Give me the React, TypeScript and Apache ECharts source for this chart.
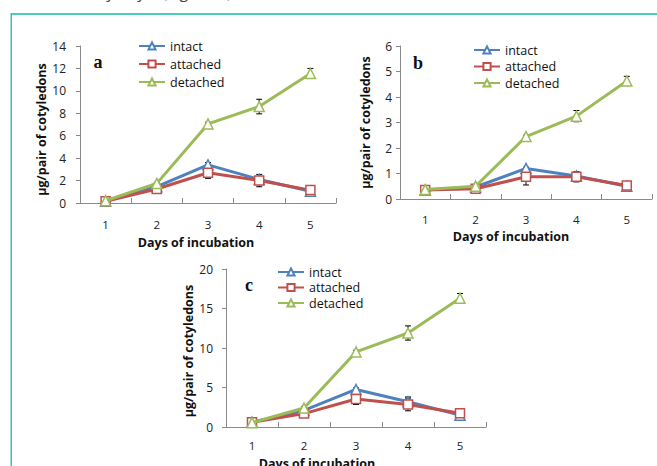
import React, { useEffect, useRef } from "react";
import * as echarts from "echarts";

const days = ["1", "2", "3", "4", "5"];
const seriesNames = ["intact", "attached", "detached"];
const xTitle = "Days of incubation";
const yTitle = "\u03bcg/pair of cotyledons";

const intactA = [0.15, 1.45, 3.4, 2.1, 1.05];
const attachedA = [0.15, 1.25, 2.7, 2.0, 1.15];
const detachedA = [0.2, 1.75, 7.05, 8.6, 11.55];
const errIntactA = [0.05, 0.1, 0.2, 0.15, 0.1];
const errAttachedA = [0.05, 0.1, 0.5, 0.55, 0.15];
const errDetachedA = [0.05, 0.1, 0.15, 0.65, 0.45];

const intactB = [0.35, 0.47, 1.2, 0.9, 0.5];
const attachedB = [0.35, 0.4, 0.87, 0.87, 0.53];
const detachedB = [0.37, 0.5, 2.45, 3.25, 4.63];
const errIntactB = [0.03, 0.03, 0.05, 0.05, 0.05];
const errAttachedB = [0.03, 0.03, 0.32, 0.2, 0.08];
const errDetachedB = [0.03, 0.03, 0.05, 0.22, 0.18];

const intactC = [0.6, 2.1, 4.75, 3.2, 1.5];
const attachedC = [0.6, 1.7, 3.55, 2.85, 1.75];
const detachedC = [0.55, 2.4, 9.5, 11.9, 16.3];
const errIntactC = [0.1, 0.1, 0.2, 0.6, 0.2];
const errAttachedC = [0.1, 0.15, 0.7, 0.8, 0.2];
const errDetachedC = [0.1, 0.15, 0.2, 0.9, 0.6];

const yMaxes = [14, 6, 20];
const yIntervals = [2, 1, 5];
const panelLetters = ["a", "b", "c"];

const COLORS = ["#4F81BD", "#C0504D", "#9BBB59"];
const SYMBOLS = ["triangle", "rect", "triangle"];
const FONT = "Open Sans";

export default function App() {
  const ref = useRef<HTMLDivElement>(null);
  useEffect(() => {
    if (!ref.current) return;
    const chart = echarts.init(ref.current, null, { renderer: "svg" });

    const panels = [
      { vals: [intactA, attachedA, detachedA], errs: [errIntactA, errAttachedA, errDetachedA] },
      { vals: [intactB, attachedB, detachedB], errs: [errIntactB, errAttachedB, errDetachedB] },
      { vals: [intactC, attachedC, detachedC], errs: [errIntactC, errAttachedC, errDetachedC] },
    ];

    const grids = [
      { left: 80, top: 46, width: 256, height: 157 },
      { left: 400, top: 46, width: 252, height: 153 },
      { left: 226, top: 269, width: 260, height: 158 },
    ];
    const xLabelMargin = [16, 15, 13];
    const xTitlePos = [
      [196, 242],
      [511, 236],
      [317, 463],
    ];
    const yLabelMargin = [14, 8, 13];
    const yNameGap = [31, 28, 31];
    const yNameShift = [5, 0, 3];
    const legendPos = [
      { left: 138, top: 39, itemGap: 4 },
      { left: 473, top: 43, itemGap: 2.5 },
      { left: 277, top: 265, itemGap: 1.5 },
    ];
    const letterPos = [
      [98, 62],
      [418, 63],
      [249, 285],
    ];

    const axisColor = "#8a8a8a";

    const xAxis = grids.map((_, i) => ({
      type: "category",
      gridIndex: i,
      data: days,
      boundaryGap: true,
      axisLine: { lineStyle: { color: axisColor, width: 1 } },
      axisTick: { show: true, inside: true, length: 5, lineStyle: { color: axisColor } },
      axisLabel: {
        color: "#222",
        fontFamily: FONT,
        fontSize: 11.5,
        lineHeight: 11,
        margin: xLabelMargin[i],
      },
      splitLine: { show: false },
    }));

    const yAxis = grids.map((_, i) => ({
      type: "value",
      gridIndex: i,
      min: 0,
      max: yMaxes[i],
      interval: yIntervals[i],
      axisLine: { show: true, lineStyle: { color: axisColor, width: 1 } },
      axisTick: { show: true, inside: false, length: 4, lineStyle: { color: axisColor } },
      axisLabel: { color: "#222", fontFamily: FONT, fontSize: 12, margin: yLabelMargin[i] },
      splitLine: { show: false },
      name: yTitle,
      nameLocation: "middle",
      nameRotate: 90,
      nameGap: yNameGap[i],
      nameTextStyle: {
        color: "#111",
        fontFamily: FONT,
        fontWeight: "bold",
        fontSize: 12.5,
        padding: [0, yNameShift[i] * 2, 0, 0],
      },
    }));

    const series: any[] = [];
    panels.forEach((p, pi) => {
      p.vals.forEach((vals, si) => {
        series.push({
          type: "custom",
          xAxisIndex: pi,
          yAxisIndex: pi,
          z: 1,
          data: vals.map((v, k) => [k, v, p.errs[si][k]]),
          renderItem: (params: any, api: any) => {
            const x = api.value(0);
            const v = api.value(1);
            const e = api.value(2);
            const top = api.coord([x, v + e]);
            const bot = api.coord([x, v - e]);
            const cx = top[0];
            const hw = 3;
            const st = { stroke: "#000", lineWidth: 1 };
            return {
              type: "group",
              children: [
                { type: "line", shape: { x1: cx, y1: top[1], x2: cx, y2: bot[1] }, style: st },
                { type: "line", shape: { x1: cx - hw, y1: top[1], x2: cx + hw, y2: top[1] }, style: st },
                { type: "line", shape: { x1: cx - hw, y1: bot[1], x2: cx + hw, y2: bot[1] }, style: st },
              ],
            };
          },
        });
      });
      p.vals.forEach((vals, si) => {
        series.push({
          type: "line",
          name: seriesNames[si],
          xAxisIndex: pi,
          yAxisIndex: pi,
          data: vals,
          color: COLORS[si],
          symbol: SYMBOLS[si],
          symbolSize: si === 1 ? 9 : 10,
          showAllSymbol: true,
          lineStyle: { color: COLORS[si], width: 3 },
          itemStyle: { color: "#ffffff", borderColor: COLORS[si], borderWidth: 1.5 },
          z: 2 + si,
        });
      });
    });

    const legend = legendPos.map((lp) => ({
      orient: "vertical",
      left: lp.left,
      top: lp.top,
      padding: 0,
      itemGap: lp.itemGap,
      itemWidth: 26,
      itemHeight: 9,
      data: seriesNames,
      selectedMode: false,
      textStyle: { color: "#111", fontFamily: FONT, fontSize: 12.5, lineHeight: 14 },
    }));

    const graphic: any[] = [
      {
        type: "rect",
        shape: { x: 11, y: 13, width: 660, height: 2 },
        style: { fill: "#4ECDB8" },
        silent: true,
      },
      {
        type: "rect",
        shape: { x: 10.5, y: 13, width: 1.5, height: 460 },
        style: { fill: "#3FBFA8" },
        silent: true,
      },
      {
        type: "text",
        x: 20,
        y: -16,
        style: {
          text: "increased by day 3 (Figure 3).",
          fontFamily: FONT,
          fontSize: 16,
          fill: "#444",
        },
        silent: true,
      },
    ];
    xTitlePos.forEach((tp) => {
      graphic.push({
        type: "text",
        x: tp[0],
        y: tp[1],
        style: {
          text: xTitle,
          fontFamily: FONT,
          fontWeight: "bold",
          fontSize: 12.5,
          lineHeight: 12,
          fill: "#111",
          align: "center",
          verticalAlign: "middle",
        },
        silent: true,
      });
    });
    letterPos.forEach((lp, i) => {
      graphic.push({
        type: "text",
        x: lp[0],
        y: lp[1],
        style: {
          text: panelLetters[i],
          fontFamily: "Liberation Serif",
          fontWeight: "bold",
          fontSize: 18,
          fill: "#111",
          align: "center",
          verticalAlign: "middle",
        },
        silent: true,
      });
    });

    chart.setOption({
      animation: false,
      backgroundColor: "#ffffff",
      grid: grids,
      xAxis,
      yAxis,
      legend,
      series,
      graphic,
    });

    return () => chart.dispose();
  }, []);

  return (
    <div
      ref={ref}
      style={{ position: "fixed", left: 0, top: 0, width: 657, height: 466, background: "#fff" }}
    />
  );
}
